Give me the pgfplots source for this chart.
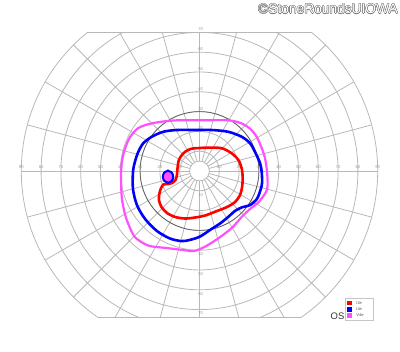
\documentclass[border=0pt]{standalone}
\usepackage{fontspec}
\setmainfont{Liberation Sans}
\usepackage{pgfplots}
\pgfplotsset{compat=1.18}
\definecolor{gridgray}{HTML}{B8B8B8}
\definecolor{labgray}{HTML}{9A9A9A}
\definecolor{vmag}{HTML}{FF50FF}
\definecolor{darkring}{HTML}{5A5A5A}
\definecolor{outl}{HTML}{707070}
\begin{document}
\begin{tikzpicture}
\path[use as bounding box] (0,0) rectangle (400bp,352bp);
% grid (chart furniture), same frame as the axis: origin at (199.5bp,181bp), 1.98bp per degree
\begin{scope}[shift={(199.5bp,181bp)}, x=1.98bp, y=1.98bp]
  \begin{scope}
    \clip (-91,-74) rectangle (91,70);
    \foreach \r in {5,10,20,30,40,50,60,70,80,90}
      \draw[gridgray, line width=0.8bp] (0,0) circle[radius=\r];
    \foreach \a in {0,15,...,345}
      \draw[gridgray, line width=0.8bp] (\a:5) -- (\a:90);
  \end{scope}
  \draw[gridgray, line width=0.8bp] (-56.57,70) -- (56.57,70);
  \draw[gridgray, line width=0.8bp] (-51.22,-74) -- (51.22,-74);
  \draw[darkring, line width=0.7bp] (0,0) circle[radius=30];
  \foreach \r in {10,20,...,90} {
    \node[font=\fontsize{4.2}{4.5}\selectfont, text=labgray, inner sep=0pt] at (\r,1.8) {\r};
    \node[font=\fontsize{4.2}{4.5}\selectfont, text=labgray, inner sep=0pt] at (-\r,1.8) {\r};
  }
  \foreach \r in {10,20,...,70} {
    \node[font=\fontsize{4.2}{4.5}\selectfont, text=labgray, inner sep=0pt] at (0.6,\r+1.5) {\r};
    \node[font=\fontsize{4.2}{4.5}\selectfont, text=labgray, inner sep=0pt] at (0.6,-\r-2) {\r};
  }
\end{scope}

\begin{axis}[
  at={(19.32bp,34.48bp)}, anchor=south west,
  x=1.98bp, y=1.98bp,
  xmin=-91, xmax=91, ymin=-74, ymax=70,
  hide axis, clip=false,
]
% V4e isopter
\addplot[vmag, line width=2.2bp, smooth cycle, tension=0.5] coordinates {
(0.3,25.6) (14.5,25.6) (21.3,24.0) (25.5,21.4) (28.9,17.2) (31.4,11.6) (33.1,6.4)
(34.1,-0.4) (34.4,-7.1) (33.6,-10.6) (29.7,-15.9) (25.5,-19.2) (21.3,-23.2)
(16.3,-28.8) (9.5,-34.0) (2.8,-38.2) (-2.8,-40.4) (-8.3,-39.9) (-16.6,-38.9)
(-25.0,-37.9) (-30.1,-35.4) (-33.4,-32.3) (-37.1,-23.7) (-39.1,-14.6) (-39.6,-5.6)
(-39.4,3.0) (-38.1,9.7) (-35.6,16.2) (-31.6,21.2) (-26.7,23.4) (-19.9,24.8) (-11.4,25.6)
};
% I4e isopter
\addplot[blue, line width=2.6bp, smooth cycle, tension=0.5] coordinates {
(-2.3,20.7) (6.2,20.7) (14.5,19.8) (21.3,17.3) (25.5,14.0) (28.0,9.7) (30.6,3.9)
(31.4,-0.4) (31.6,-6.1) (30.8,-9.6) (29.0,-14.1) (25.5,-17.2) (21.3,-18.4)
(17.9,-20.2) (14.5,-23.2) (10.4,-26.5) (5.3,-29.8) (0.3,-33.1) (-4.8,-34.8)
(-9.0,-35.4) (-14.9,-34.1) (-21.5,-30.3) (-27.5,-24.2) (-31.6,-17.2) (-33.6,-9.1)
(-33.6,-0.5) (-32.6,4.7) (-30.9,9.7) (-28.4,14.0) (-24.1,17.3) (-18.3,19.8) (-11.5,20.7)
};
% I2e isopter
\addplot[red, line width=2.6bp, smooth cycle, tension=0.5] coordinates {
(-3.3,11.4) (0.3,11.6) (4.3,11.8) (11.2,11.5) (16.3,8.9) (19.6,5.6) (21.3,1.4)
(21.8,-3.5) (21.5,-8.1) (20.5,-12.1) (17.9,-15.7) (13.9,-18.2) (7.8,-20.6)
(2.8,-22.5) (-2.3,-23.5) (-7.3,-24.0) (-12.4,-23.2) (-16.4,-21.2) (-19.2,-18.2)
(-20.5,-14.6) (-20.2,-11.1) (-19.4,-8.6) (-18.2,-6.8) (-15.9,-6.6) (-13.9,-6.1)
(-12.1,-4.5) (-11.4,-2.0) (-11.1,1.5) (-10.4,5.6) (-8.3,8.8) (-5.8,10.6)
};
% blind spot
\addplot[draw=blue, fill=vmag, line width=2.0bp, smooth cycle, tension=0.7] coordinates {
(-13.3,-2.9) (-14.1,-0.7) (-15.9,0.2) (-17.7,-0.7) (-18.5,-2.9) (-17.7,-5.1) (-15.9,-6.0) (-14.1,-5.1)
};
\end{axis}

% legend
\draw[gray!45, line width=0.6bp, fill=white] (345.7bp,31.3bp) rectangle (373.3bp,53.7bp);
\fill[red]  (347.3bp,46.6bp) rectangle (352.3bp,51.2bp);
\fill[blue] (347.3bp,40.3bp) rectangle (352.3bp,44.9bp);
\fill[vmag] (347.3bp,34.1bp) rectangle (352.3bp,38.7bp);
\node[anchor=west, font=\fontsize{4}{4.5}\selectfont, text=black!70, inner sep=0pt] at (356.2bp,48.9bp) {I2e};
\node[anchor=west, font=\fontsize{4}{4.5}\selectfont, text=black!70, inner sep=0pt] at (356.2bp,42.6bp) {I4e};
\node[anchor=west, font=\fontsize{4}{4.5}\selectfont, text=black!70, inner sep=0pt] at (356.2bp,36.4bp) {V4e};

\node[font=\fontsize{9.5}{11}\selectfont, text=black!80] at (337.5bp,36bp) {OS};

% outlined copyright text
\foreach \dx/\dy in {-0.45/0,0.45/0,0/-0.45,0/0.45,-0.32/-0.32,0.32/0.32,-0.32/0.32,0.32/-0.32}
  \node[anchor=north east, font=\fontsize{13.8}{16}\selectfont, text=outl, inner sep=0pt]
    at ({398bp+\dx bp},{348.5bp+\dy bp}) {©StoneRoundsUIOWA};
\node[anchor=north east, font=\fontsize{13.8}{16}\selectfont, text=white, inner sep=0pt]
  at (398bp,348.5bp) {©StoneRoundsUIOWA};
\end{tikzpicture}
\end{document}
